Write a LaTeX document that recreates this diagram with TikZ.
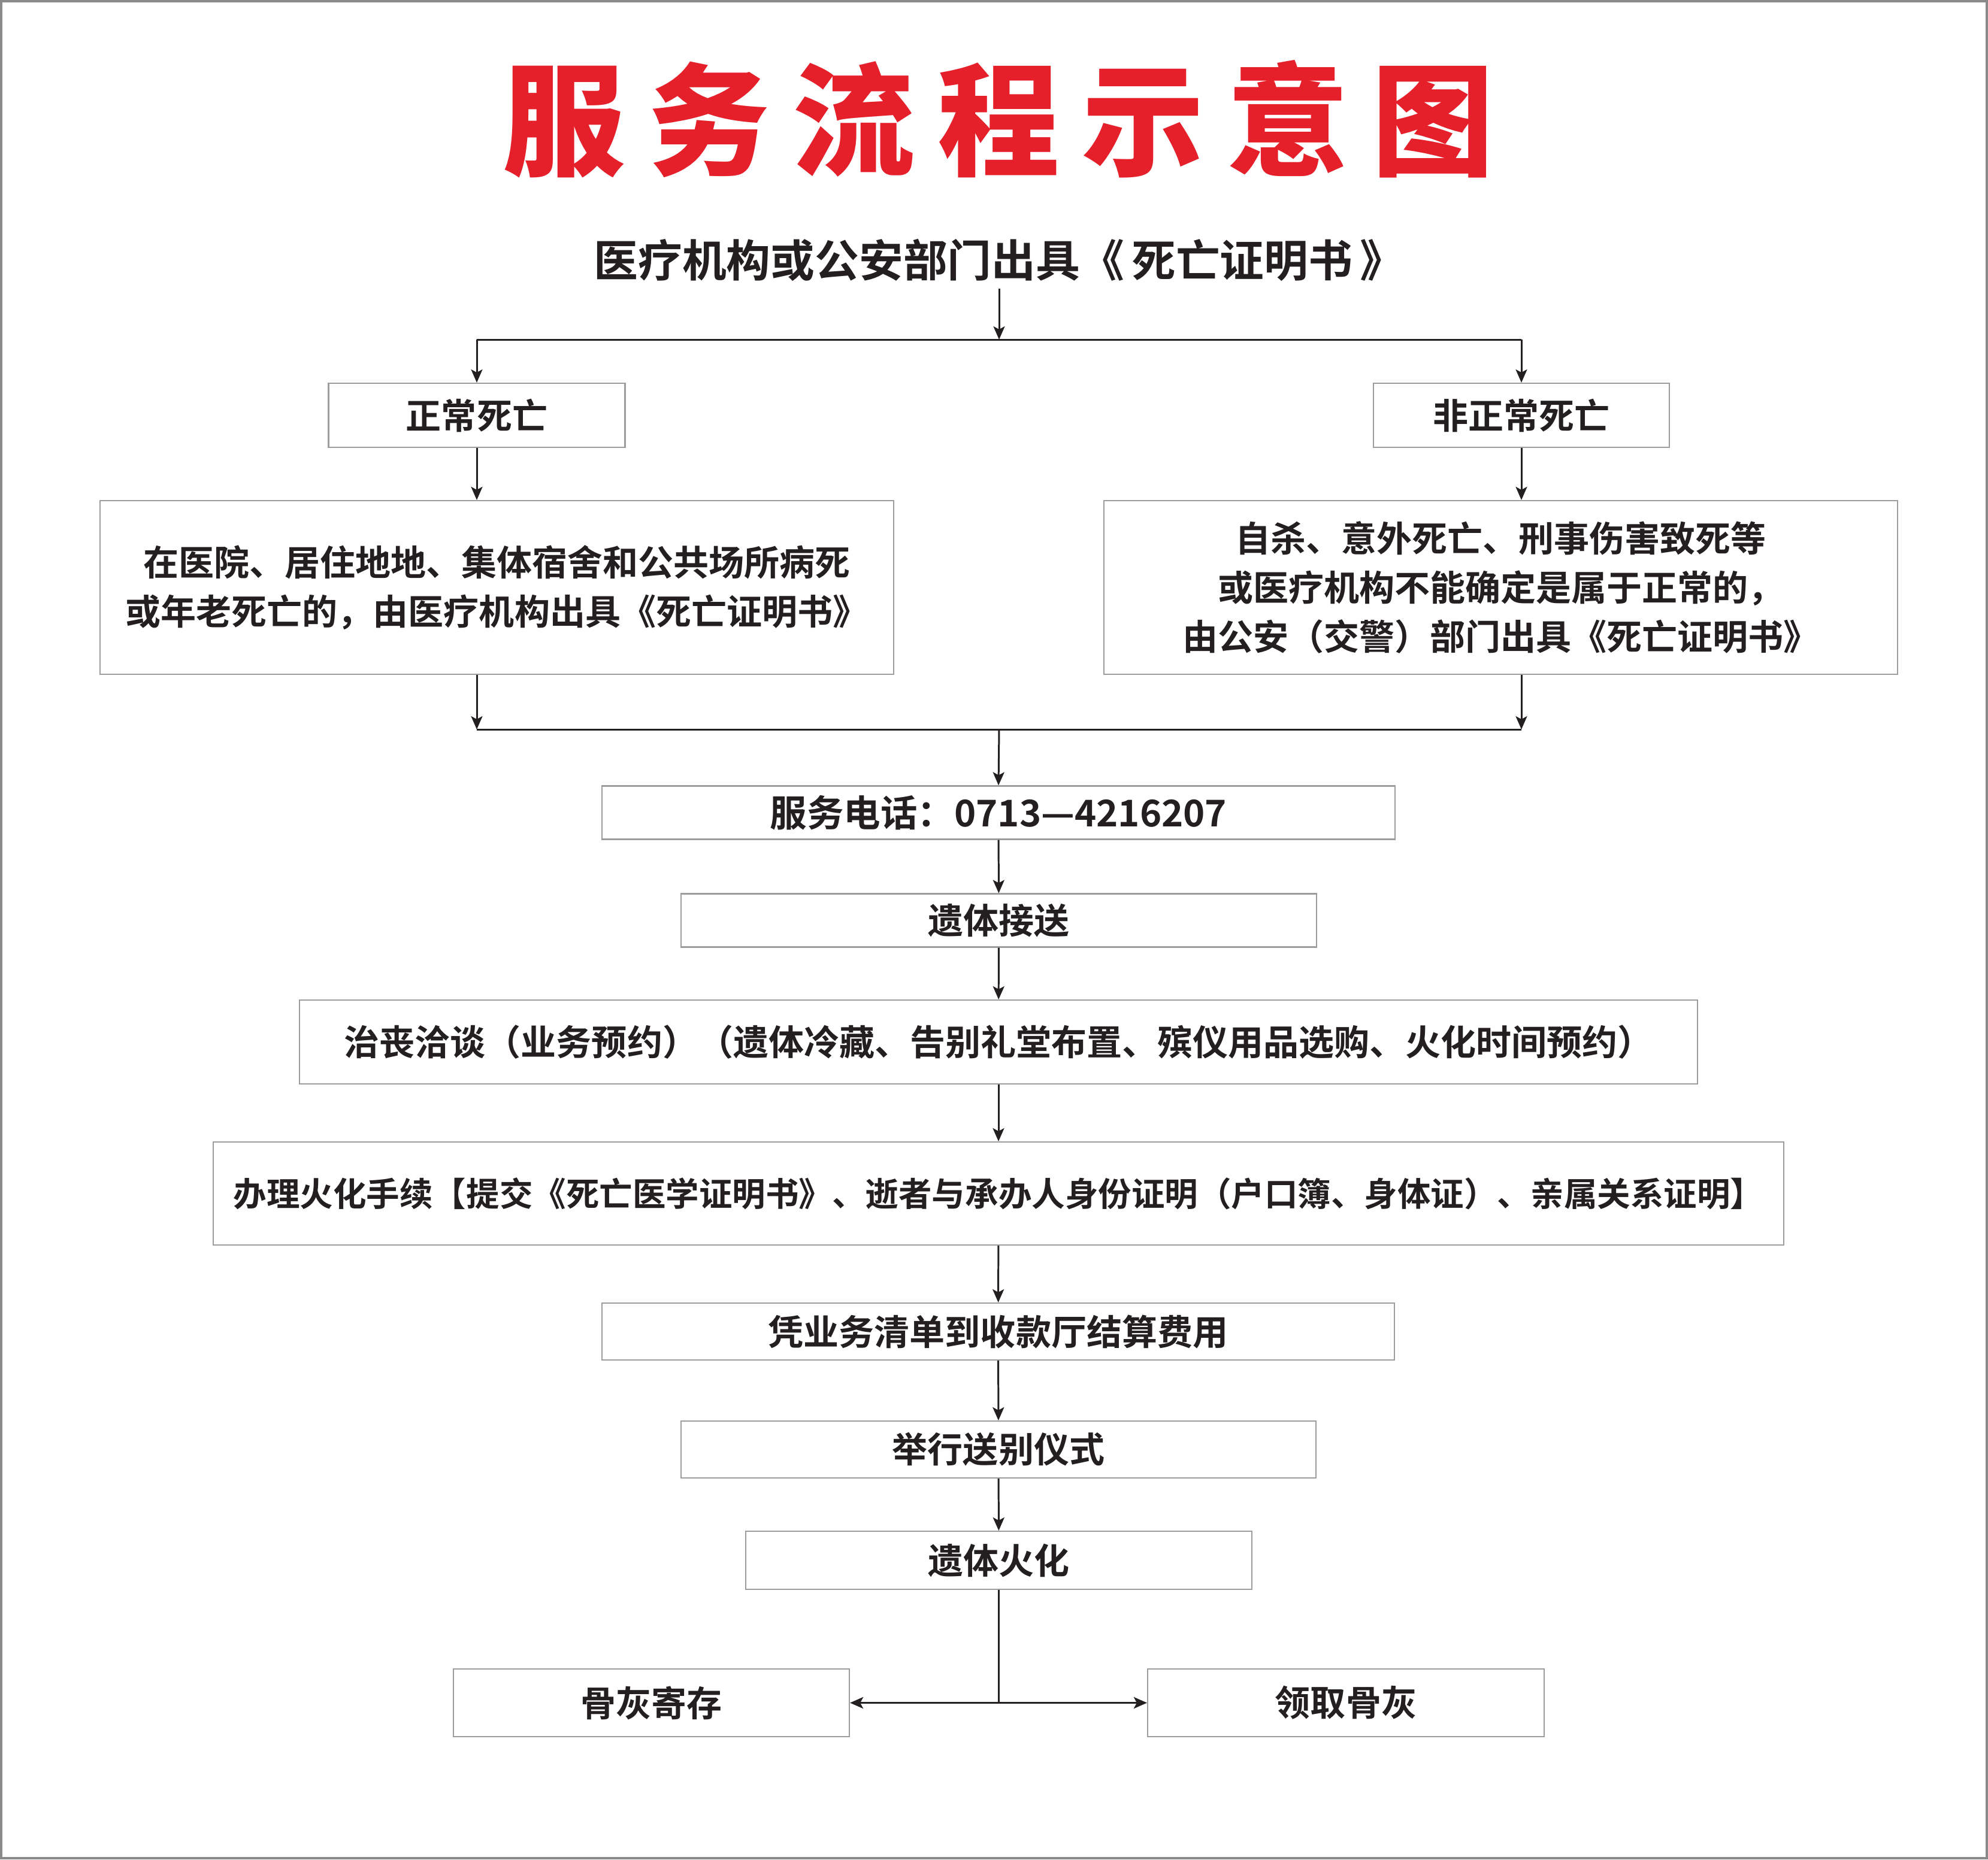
\documentclass[tikz,border=0pt]{standalone}
\usepackage{fontspec}
\usepackage{tikz}
\usetikzlibrary{arrows.meta}
\newfontfamily\cjk{Noto Sans CJK SC}[UprightFont=* Bold]
\newfontfamily\titlefont{Noto Sans CJK SC}[UprightFont=* Black]
\definecolor{titlered}{HTML}{E5202A}
\definecolor{textdark}{HTML}{231F20}
\definecolor{boxgray}{HTML}{9D9D9D}
\definecolor{framegray}{HTML}{8A8A8A}
\newcommand{\tgap}{\hspace{0.38cm}}

\begin{document}
\begin{tikzpicture}[
    box/.style={draw=boxgray, line width=0.6pt, fill=white, inner sep=0pt,
      align=center, text=textdark, font=\cjk\fontsize{16.8pt}{23.3pt}\selectfont},
    conn/.style={draw=textdark, line width=0.85pt},
    arrow/.style={conn, -{Stealth[length=0.22cm, width=0.19cm, inset=0.05cm]}}
]
  \useasboundingbox (0,0) rectangle (33.19,-31.05);

  % Rahmen
  \draw[framegray, line width=0.9pt] (0.02,-0.02) rectangle (33.17,-31.03);

  % Titel
  \node[text=titlered, font=\titlefont\fontsize{58pt}{58pt}\selectfont] (title) at (16.67,-1.99)
    {服\tgap 务\tgap 流\tgap 程\tgap 示\tgap 意\tgap 图};
  \node[text=textdark, inner sep=0.12cm, font=\cjk\fontsize{21pt}{24pt}\selectfont] (source) at (16.68,-4.34)
    {医疗机构或公安部门出具《\,死亡证明书\,》};

  % Verzweigung
  \coordinate (split) at (16.68,-5.67);
  \node[box, minimum width=4.95cm, minimum height=1.07cm] (normal) at (7.96,-6.935) {正常死亡};
  \node[box, minimum width=4.94cm, minimum height=1.07cm] (abnormal) at (25.40,-6.935) {非正常死亡};
  \node[box, minimum width=13.25cm, minimum height=2.90cm] (leftbox) at (8.295,-9.81)
    {在医院、居住地地、集体宿舍和公共场所病死\\或年老死亡的，由医疗机构出具《死亡证明书》};
  \node[box, minimum width=13.25cm, minimum height=2.90cm] (rightbox) at (25.055,-9.81)
    {自杀、意外死亡、刑事伤害致死等\\或医疗机构不能确定是属于正常的，\\由公安（交警）部门出具《死亡证明书》};
  \coordinate (merge) at (16.68,-12.18);

  % Ablauf
  \node[box, minimum width=13.24cm, minimum height=0.89cm, font=\cjk\fontsize{17.5pt}{20pt}\selectfont] (phone) at (16.67,-13.57) {服务电话：0713—4216207};
  \node[box, minimum width=10.61cm, minimum height=0.89cm] (pickup) at (16.675,-15.37) {遗体接送};
  \node[box, minimum width=23.34cm, minimum height=1.40cm] (consult) at (16.67,-17.40)
    {治丧洽谈（业务预约）（遗体冷藏、告别礼堂布置、殡仪用品选购、火化时间预约）};
  \node[box, minimum width=26.22cm, minimum height=1.72cm, font=\cjk\fontsize{15.8pt}{18pt}\selectfont] (papers) at (16.67,-19.93)
    {办理火化手续【提交《死亡医学证明书》、逝者与承办人身份证明（户口簿、身体证）、亲属关系证明】};
  \node[box, minimum width=13.23cm, minimum height=0.95cm] (payment) at (16.665,-22.235) {凭业务清单到收款厅结算费用};
  \node[box, minimum width=10.60cm, minimum height=0.95cm] (farewell) at (16.67,-24.205) {举行送别仪式};
  \node[box, minimum width=8.45cm, minimum height=0.97cm] (cremation) at (16.675,-26.055) {遗体火化};
  \node[box, minimum width=6.61cm, minimum height=1.13cm] (storage) at (10.875,-28.435) {骨灰寄存};
  \node[box, minimum width=6.62cm, minimum height=1.13cm] (collect) at (22.47,-28.435) {领取骨灰};
  \coordinate (fork) at (cremation.south |- storage.east);

  % Verbindungen oben
  \draw[arrow] (source.south) -- (split);
  \draw[conn] (normal.north |- split) -- (abnormal.north |- split);
  \draw[arrow] (normal.north |- split) -- (normal.north);
  \draw[arrow] (abnormal.north |- split) -- (abnormal.north);
  \draw[arrow] (normal.south) -- (normal.south |- leftbox.north);
  \draw[arrow] (abnormal.south) -- (abnormal.south |- rightbox.north);
  \draw[arrow] (normal.south |- leftbox.south) -- (normal.south |- merge);
  \draw[arrow] (abnormal.south |- rightbox.south) -- (abnormal.south |- merge);
  \draw[conn] (normal.south |- merge) -- (abnormal.south |- merge);

  % Verbindungen Ablauf
  \draw[arrow] (merge) -- (phone.north);
  \draw[arrow] (phone) -- (pickup);
  \draw[arrow] (pickup) -- (consult);
  \draw[arrow] (consult) -- (papers);
  \draw[arrow] (papers) -- (payment);
  \draw[arrow] (payment) -- (farewell);
  \draw[arrow] (farewell) -- (cremation);
  \draw[conn] (cremation.south) -- (fork);
  \draw[arrow, line width=1.1pt] (fork) -- (storage.east);
  \draw[arrow, line width=1.1pt] (fork) -- (collect.west);

\end{tikzpicture}
\end{document}
